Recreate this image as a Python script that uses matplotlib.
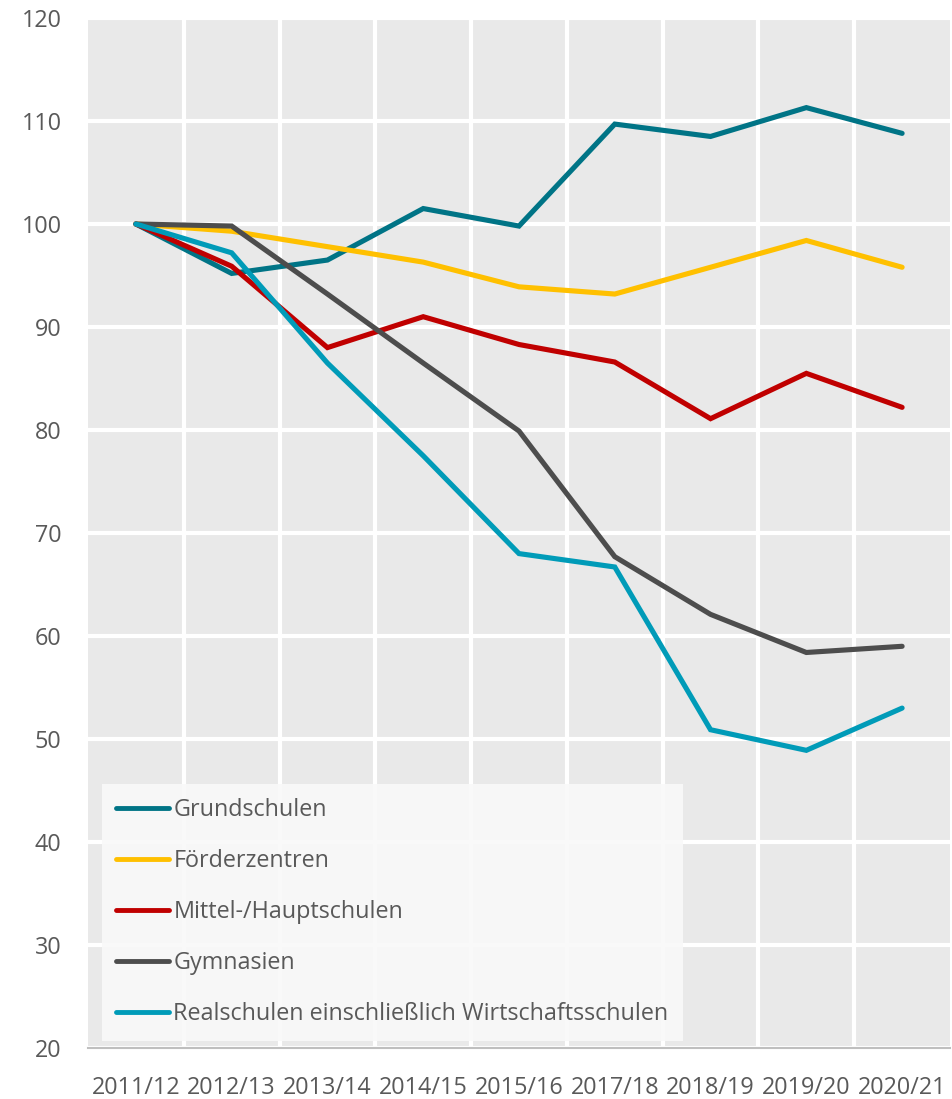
import matplotlib
matplotlib.use('Agg')
import matplotlib.pyplot as plt
import numpy as np

years = ['2011/12', '2012/13', '2013/14', '2014/15', '2015/16',
         '2017/18', '2018/19', '2019/20', '2020/21']

grundschulen = [100, 95.2, 96.5, 101.5, 99.8, 109.7, 108.5, 111.3, 108.8]
foerderzentren = [100, 99.3, 97.8, 96.3, 93.9, 93.2, 95.8, 98.4, 95.8]
mittelschulen = [100, 95.9, 88.0, 91.0, 88.3, 86.6, 81.1, 85.5, 82.2]
gymnasien = [100, 99.8, 93.2, 86.5, 79.9, 67.7, 62.1, 58.4, 59.0]
realschulen = [100, 97.2, 86.5, 77.5, 68.0, 66.7, 50.9, 48.9, 53.0]

series = [
    ('Grundschulen', grundschulen, '#007486'),
    ('Förderzentren', foerderzentren, '#ffc000'),
    ('Mittel-/Hauptschulen', mittelschulen, '#c00000'),
    ('Gymnasien', gymnasien, '#4d4d4d'),
    ('Realschulen einschließlich Wirtschaftsschulen', realschulen, '#009bb8'),
]

plt.rcParams['font.family'] = ['Open Sans', 'DejaVu Sans']
text_color = '#595959'
fs = 16.8

fig = plt.figure(figsize=(9.53, 10.99), dpi=100)
ax = fig.add_axes([88 / 953, 1 - 1048 / 1099, 862 / 953, 1030 / 1099])
ax.set_facecolor('#e9e9e9')

x = np.arange(len(years))
for name, vals, color in series:
    ax.plot(x, vals, color=color, lw=3.7, label=name,
            solid_capstyle='round', solid_joinstyle='miter', zorder=3)

ax.set_xlim(-0.5, len(years) - 0.5)
ax.set_ylim(20, 120)
ax.set_yticks(np.arange(20, 121, 10))
ax.set_xticks(x)
ax.set_xticklabels(years)
ax.set_xticks(np.arange(0.5, len(years) - 1, 1), minor=True)

ax.grid(axis='y', which='major', color='white', lw=3)
ax.grid(axis='x', which='minor', color='white', lw=3)
ax.set_axisbelow(True)

for s in ['top', 'right', 'left']:
    ax.spines[s].set_visible(False)
ax.spines['bottom'].set_color('#bfbfbf')
ax.spines['bottom'].set_linewidth(1.5)
ax.spines['bottom'].set_zorder(4)

ax.tick_params(axis='both', which='both', length=0, labelsize=fs,
               labelcolor=text_color)
ax.tick_params(axis='y', pad=19)
ax.tick_params(axis='x', pad=20)

leg = ax.legend(loc='lower left', bbox_to_anchor=(0.016, 0.007),
                fontsize=fs, frameon=True, fancybox=False,
                handlelength=2.25, handletextpad=0.2, labelspacing=1.16,
                borderpad=0.62, borderaxespad=0)
leg.get_frame().set_facecolor('#f9f9f9')
leg.get_frame().set_alpha(0.9)
leg.get_frame().set_edgecolor('none')
for t in leg.get_texts():
    t.set_color(text_color)
for h in leg.get_lines():
    h.set_solid_capstyle('round')
    h.set_linewidth(3.5)

fig.savefig('out.png', dpi=100)
